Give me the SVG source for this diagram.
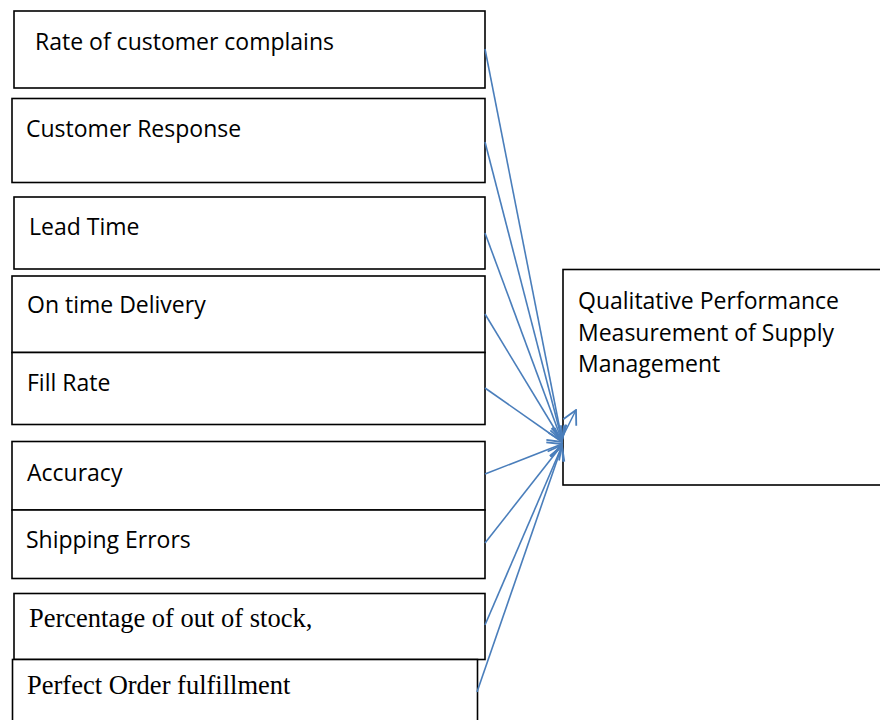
<svg xmlns="http://www.w3.org/2000/svg" width="880" height="720" viewBox="0 0 880 720">
  <style>
    .box { fill: #ffffff; stroke: #000000; stroke-width: 1.6; }
    .sans { font-family: "Open Sans", "Noto Sans", "Liberation Sans", sans-serif; font-size: 23px; fill: #000000; }
    .serif { font-family: "Liberation Serif", "Times New Roman", serif; font-size: 26.5px; fill: #000000; }
    .link { fill: none; stroke: #4a7ebb; stroke-width: 1.6; marker-end: url(#open-arrow); }
  </style>
  <defs>
    <marker id="open-arrow" viewBox="0 0 12 12" refX="11" refY="6" markerWidth="10.5" markerHeight="10.5" orient="auto" markerUnits="strokeWidth">
      <path d="M1,0.8 L11,6 L1,11.2" fill="none" stroke="#4a7ebb" stroke-width="1.3"/>
    </marker>
  </defs>
  <rect width="880" height="720" fill="#ffffff"/>

  <g id="node-complains">
    <rect class="box" x="14" y="11" width="471" height="77"/>
    <text class="sans" x="35" y="50">Rate of customer complains</text>
  </g>
  <g id="node-response">
    <rect class="box" x="12" y="98.5" width="473" height="84"/>
    <text class="sans" x="26" y="137">Customer Response</text>
  </g>
  <g id="node-lead-time">
    <rect class="box" x="14" y="197" width="471" height="72"/>
    <text class="sans" x="29" y="235">Lead Time</text>
  </g>
  <g id="node-on-time">
    <rect class="box" x="12" y="276" width="473" height="76.5"/>
    <text class="sans" x="27" y="313">On time Delivery</text>
  </g>
  <g id="node-fill-rate">
    <rect class="box" x="12" y="352.5" width="473" height="72"/>
    <text class="sans" x="27" y="391">Fill Rate</text>
  </g>
  <g id="node-accuracy">
    <rect class="box" x="12" y="441.5" width="473" height="68.5"/>
    <text class="sans" x="27" y="481">Accuracy</text>
  </g>
  <g id="node-shipping">
    <rect class="box" x="12" y="510" width="473" height="68.5"/>
    <text class="sans" x="26" y="548">Shipping Errors</text>
  </g>
  <g id="node-out-of-stock">
    <rect class="box" x="14" y="593.5" width="471" height="66"/>
    <text class="serif" x="29" y="627">Percentage of out of stock,</text>
  </g>
  <g id="node-perfect-order">
    <rect class="box" x="12.5" y="659.5" width="465" height="80"/>
    <text class="serif" x="27" y="694">Perfect Order fulfillment</text>
  </g>
  <g id="node-qualitative">
    <rect class="box" x="563" y="269.5" width="340" height="215.5"/>
    <text class="sans" x="578" y="309">Qualitative Performance</text>
    <text class="sans" x="578" y="341">Measurement of Supply</text>
    <text class="sans" x="578" y="372">Management</text>
  </g>

  <g id="connectors">
    <path class="link" d="M485,49 L562,440"/>
    <path class="link" d="M485,142 L562,440"/>
    <path class="link" d="M485,233 L562,441"/>
    <path class="link" d="M485,314 L562,441"/>
    <path class="link" d="M485,388 L562,442"/>
    <path class="link" d="M485,474 L562,444"/>
    <path class="link" d="M485,543 L562,445"/>
    <path class="link" d="M485,625 L562,446"/>
    <path class="link" d="M477,692 L562,446"/>
    <path class="link" d="M563,436 L576,410"/>
  </g>
</svg>
